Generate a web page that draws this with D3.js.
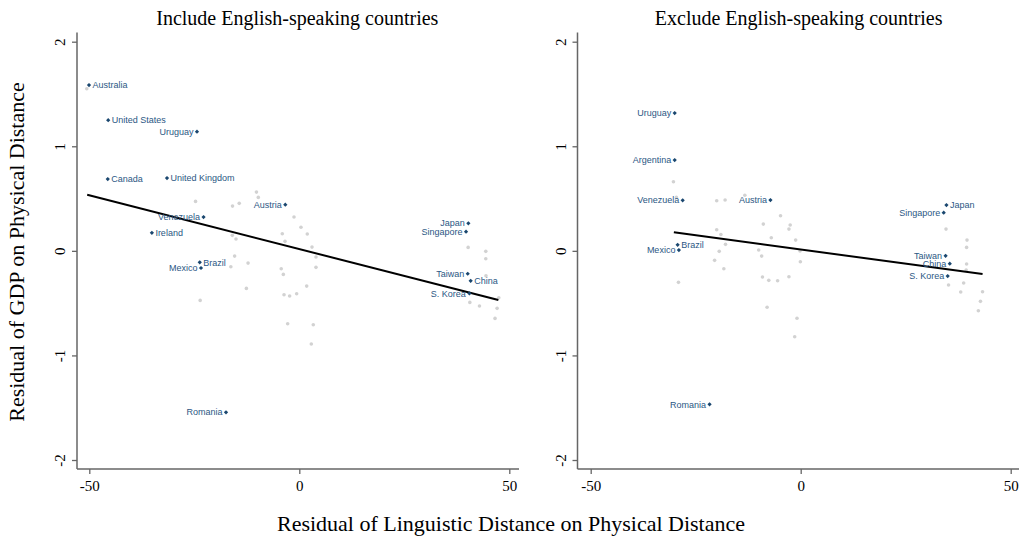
<!DOCTYPE html>
<html><head><meta charset="utf-8">
<script src="https://cdn.jsdelivr.net/npm/d3@7"></script>
<style>
body{margin:0;background:#fff;}
svg{display:block;}
</style></head>
<body>
<svg id="chart" width="1019" height="537"></svg>
<script>
// ---- data ----
const panelTitles = ["Include English-speaking countries", "Exclude English-speaking countries"];
const xTicks = [-50, 0, 50];
const yTicks = [-2, -1, 0, 1, 2];
const yTitle = "Residual of GDP on Physical Distance";
const xTitle = "Residual of Linguistic Distance on Physical Distance";

// left panel: labelled countries
const leftNames = ["Australia","United States","Uruguay","Canada","United Kingdom","Venezuela","Ireland","Austria","Brazil","Mexico","Japan","Singapore","Taiwan","China","S. Korea","Romania"];
const leftX = [-50.07,-45.5,-24.36,-45.6,-31.5,-22.8,-35.1,-3.33,-23.7,-23.4,40.25,39.7,40.1,40.8,40.5,-17.45];
const leftY = [1.585,1.25,1.139,0.686,0.696,0.323,0.173,0.441,-0.110,-0.164,0.263,0.183,-0.219,-0.286,-0.407,-1.544];
const leftSide = ["R","R","L","R","R","L","R","L","R","L","L","L","L","R","L","L"];
// left panel: other countries
const leftGreyX = [-50.6,-24.7,-15.9,-14.3,-10.2,-9.76,-1.26,0.4,-4.05,1.9,-15.95,-15.07,-3.4,3.02,3.97,-15.4,-12.2,-16.3,3.97,-4.3,-3.8,-12.6,1.76,-3.64,-2.3,-0.63,-23.6,-2.77,3.33,2.86,40.2,44.4,44.4,44.45,47.5,40.6,42.9,47.1,46.6];
const leftGreyY = [1.55,0.473,0.428,0.454,0.562,0.511,0.323,0.225,0.164,0.161,0.148,0.113,0.091,0.036,-0.059,-0.05,-0.117,-0.152,-0.158,-0.171,-0.225,-0.359,-0.337,-0.42,-0.432,-0.41,-0.474,-0.697,-0.706,-0.891,0.033,-0.005,-0.075,-0.238,-0.448,-0.493,-0.528,-0.55,-0.646];
const leftFitX = [-50.5, 47.4];
const leftFitY = [0.536, -0.470];

// right panel: labelled countries
const rightNames = ["Uruguay","Argentina","Venezuela","Austria","Brazil","Mexico","Japan","Singapore","Taiwan","China","S. Korea","Romania"];
const rightX = [-30.0,-30.0,-28.1,-7.2,-29.3,-29.0,34.7,34.05,34.5,35.5,35.0,-21.7];
const rightY = [1.317,0.868,0.483,0.486,0.058,0.008,0.438,0.365,-0.047,-0.123,-0.241,-1.468];
const rightSide = ["L","L","L","L","R","L","R","L","L","L","L","L"];
// right panel: other countries
const rightGreyX = [-30.3,-29.6,-20,-18.0,-13.3,-4.8,-8.9,-2.5,-2.8,-20,-19.0,-7.0,-1.2,-17.9,-10,-0.16,-19.4,-9.3,-20.5,-0.08,-18.3,-9.1,-7.6,-5.5,-2.8,-29.1,-8.0,-0.88,-1.43,34.6,39.6,39.5,39.5,39.4,35.2,38.8,38.1,43.3,42.8,42.3];
const rightGreyY = [0.661,0.511,0.479,0.486,0.531,0.336,0.256,0.247,0.208,0.202,0.157,0.125,0.103,0.062,0.008,-0.002,-0.005,-0.05,-0.091,-0.104,-0.171,-0.25,-0.282,-0.286,-0.248,-0.301,-0.54,-0.644,-0.821,0.208,0.103,0.033,-0.126,-0.184,-0.327,-0.308,-0.394,-0.391,-0.483,-0.573];
const rightFitX = [-30.2, 43.3];
const rightFitY = [0.177, -0.222];

// ---- drawing ----
const svg = d3.select("#chart");
const serif = "'Liberation Serif','Times New Roman',Times,serif";
const sans = "'Liberation Sans',Arial,Helvetica,sans-serif";
const navy = "#1a476f";
const grey = "#d2d2d2";
const axisCol = "#666";

const panels = [
  {title: panelTitles[0], axX: 77, xr: [89.3, 509.3], right: 519,
   names: leftNames, x: leftX, y: leftY, side: leftSide, gx: leftGreyX, gy: leftGreyY, fx: leftFitX, fy: leftFitY},
  {title: panelTitles[1], axX: 577.5, xr: [590.7, 1010.7], right: 1019,
   names: rightNames, x: rightX, y: rightY, side: rightSide, gx: rightGreyX, gy: rightGreyY, fx: rightFitX, fy: rightFitY}
];
const yRange = [460, 41.7];
const axTop = 32.5, axBottom = 469;
const fmt = d => String(d);

panels.forEach(p => {
  const x = d3.scaleLinear().domain([-50, 50]).range(p.xr);
  const y = d3.scaleLinear().domain([-2, 2]).range(yRange);
  const g = svg.append("g");

  // title
  g.append("text").attr("x", (p.xr[0] + p.xr[1]) / 2 - 2).attr("y", 25)
    .attr("text-anchor", "middle").attr("font-family", serif).attr("font-size", 20)
    .attr("fill", "#000").text(p.title);

  // y axis
  const ya = g.append("g").attr("transform", `translate(${p.axX},0)`)
    .call(d3.axisLeft(y).tickValues(yTicks).tickSize(5).tickFormat(fmt));
  ya.select(".domain").remove();
  ya.selectAll(".tick line").attr("stroke", axisCol).attr("stroke-width", 1.3);
  ya.selectAll(".tick text").attr("font-family", serif).attr("font-size", 15).attr("fill", "#000")
    .attr("x", null).attr("dy", null).attr("text-anchor", "middle")
    .attr("transform", "translate(-17,0) rotate(-90)").attr("dy", "0.35em");
  g.append("line").attr("x1", p.axX).attr("x2", p.axX).attr("y1", axTop).attr("y2", axBottom)
    .attr("stroke", axisCol).attr("stroke-width", 1.5);

  // x axis
  const xa = g.append("g").attr("transform", `translate(0,${axBottom})`)
    .call(d3.axisBottom(x).tickValues(xTicks).tickSize(5).tickFormat(fmt));
  xa.select(".domain").remove();
  xa.selectAll(".tick line").attr("stroke", axisCol).attr("stroke-width", 1.3);
  xa.selectAll(".tick text").attr("font-family", serif).attr("font-size", 15).attr("fill", "#000")
    .attr("y", 11);
  g.append("line").attr("x1", p.axX).attr("x2", p.right).attr("y1", axBottom).attr("y2", axBottom)
    .attr("stroke", axisCol).attr("stroke-width", 1.5);

  // grey points
  g.append("g").selectAll("circle").data(d3.range(p.gx.length)).join("circle")
    .attr("cx", i => x(p.gx[i])).attr("cy", i => y(p.gy[i])).attr("r", 1.8).attr("fill", grey);

  // fit line
  g.append("path").datum(d3.range(p.fx.length))
    .attr("d", d3.line().x(i => x(p.fx[i])).y(i => y(p.fy[i])))
    .attr("stroke", "#000").attr("stroke-width", 2).attr("fill", "none");

  // labelled points
  const lg = g.append("g");
  d3.range(p.names.length).forEach(i => {
    const cx = x(p.x[i]), cy = y(p.y[i]);
    lg.append("path").attr("d", d3.symbol(d3.symbolSquare, 9)())
      .attr("transform", `translate(${cx},${cy}) rotate(45)`).attr("fill", navy);
    lg.append("text").attr("x", p.side[i] === "R" ? cx + 3.5 : cx - 3.5).attr("y", cy).attr("dy", "0.35em")
      .attr("text-anchor", p.side[i] === "R" ? "start" : "end")
      .attr("font-family", sans).attr("font-size", 9).attr("fill", "#2b5784").text(p.names[i]);
  });
});

// axis titles
svg.append("text").attr("transform", "translate(24,252) rotate(-90)")
  .attr("text-anchor", "middle").attr("font-family", serif).attr("font-size", 22).attr("fill", "#000").text(yTitle);
svg.append("text").attr("x", 511).attr("y", 531)
  .attr("text-anchor", "middle").attr("font-family", serif).attr("font-size", 22).attr("fill", "#000").text(xTitle);
</script>
</body></html>
